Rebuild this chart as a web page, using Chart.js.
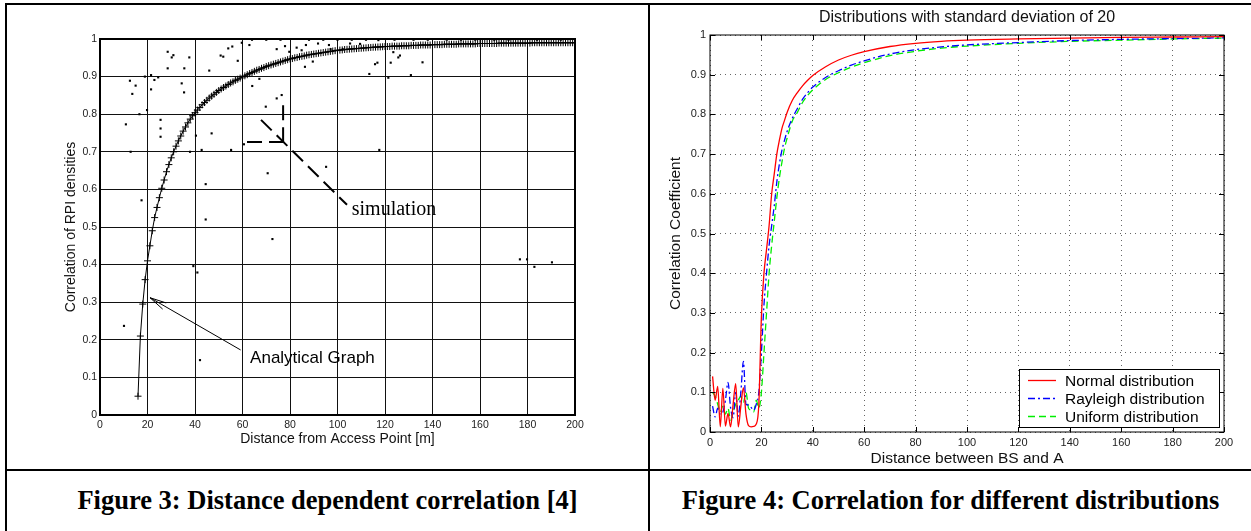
<!DOCTYPE html>
<html>
<head>
<meta charset="utf-8">
<script src="https://cdn.jsdelivr.net/npm/chart.js@4.4.0/dist/chart.umd.min.js"></script>
<style>
  html, body { margin: 0; padding: 0; background: #fff; }
  body { width: 1251px; height: 531px; position: relative; overflow: hidden; }
  canvas { position: absolute; top: 0; }
  #fig3 { left: 0; }
  #fig4 { left: 649px; }
  .rule { position: absolute; background: #000; }
  .caption {
    position: absolute; top: 485px; height: 34px; line-height: 34px;
    text-align: center; font: bold 26.5px "Liberation Serif", "Times New Roman", serif; color: #000;
  }
</style>
</head>
<body>
<canvas id="fig3" width="648" height="468"></canvas>
<canvas id="fig4" width="602" height="468"></canvas>

<div class="rule" style="left:5px;top:3px;width:1246px;height:2px"></div>
<div class="rule" style="left:5px;top:3px;width:2px;height:528px"></div>
<div class="rule" style="left:648px;top:3px;width:2px;height:528px"></div>
<div class="rule" style="left:5px;top:469px;width:1246px;height:2px"></div>

<div class="caption" style="left:7px;width:641px">Figure 3: Distance dependent correlation [4]</div>
<div class="caption" style="left:650px;width:601px">Figure 4: Correlation for different distributions</div>

<script>
Chart.defaults.font.family = '"Liberation Sans", Arial, Helvetica, sans-serif';
Chart.defaults.color = '#222';

// ---- Figure 3 data ----
// analytical curve, one value per metre starting at 16 m
const analyticalStart = 16;
const analyticalY = [
  0.05, 0.21, 0.295, 0.36, 0.41, 0.45, 0.49, 0.525, 0.552, 0.578,
  0.603, 0.625, 0.647, 0.666, 0.684, 0.700, 0.715, 0.729, 0.742, 0.755,
  0.766, 0.777, 0.787, 0.796, 0.804, 0.811, 0.818, 0.825, 0.831, 0.837,
  0.843, 0.848, 0.853, 0.858, 0.863, 0.867, 0.871, 0.875, 0.879, 0.883,
  0.886, 0.890, 0.893, 0.896, 0.899, 0.902, 0.905, 0.908, 0.911, 0.914,
  0.917, 0.919, 0.922, 0.924, 0.927, 0.929, 0.931, 0.933, 0.935, 0.937,
  0.939, 0.941, 0.943, 0.945, 0.947, 0.948, 0.950, 0.951, 0.953, 0.954,
  0.955, 0.957, 0.958, 0.959, 0.960, 0.961, 0.962, 0.963, 0.964, 0.965,
  0.966, 0.967, 0.968, 0.969, 0.970, 0.9705, 0.971, 0.972, 0.9725, 0.973,
  0.9735, 0.974, 0.9745, 0.975, 0.9755, 0.976, 0.9765, 0.977, 0.9775, 0.978,
  0.9783, 0.9787, 0.979, 0.9795, 0.980, 0.980, 0.980, 0.981, 0.981, 0.981,
  0.981, 0.982, 0.982, 0.982, 0.982, 0.983, 0.983, 0.983, 0.983, 0.984,
  0.984, 0.984, 0.984, 0.984, 0.985, 0.985, 0.985, 0.985, 0.985, 0.986,
  0.986, 0.986, 0.986, 0.986, 0.986, 0.987, 0.987, 0.987, 0.987, 0.987,
  0.987, 0.987, 0.987, 0.988, 0.988, 0.988, 0.988, 0.988, 0.988, 0.988,
  0.988, 0.988, 0.989, 0.989, 0.989, 0.989, 0.989, 0.989, 0.989, 0.989,
  0.989, 0.989, 0.989, 0.989, 0.989, 0.989, 0.990, 0.990, 0.990, 0.990,
  0.990, 0.990, 0.990, 0.990, 0.990, 0.990, 0.990, 0.990, 0.990, 0.990,
  0.990, 0.990, 0.990, 0.990, 0.990
];

// simulation dots
const simX = [
  10.1, 10.9, 12.6, 12.9, 13.6, 15.0, 16.6, 17.5, 18.9, 19.8,
  21.5, 21.5, 22.9, 24.5, 25.5, 25.5, 25.5, 28.5, 28.5, 30.2,
  30.9, 34.4, 35.4, 35.5, 37.6, 37.9, 39.3, 40.4, 41.0, 42.1,
  42.8, 44.5, 44.5, 46.0, 47.0, 50.8, 51.9, 54.0, 55.2, 55.7,
  58.0, 59.7, 60.6, 62.9, 64.1, 67.1, 69.8, 70.6, 72.6, 74.4,
  74.4, 76.5, 77.9, 79.7, 82.8, 84.9, 86.3, 86.7, 89.6, 91.8,
  95.2, 96.4, 97.1, 102.2, 105.3, 109.5, 113.4, 115.8, 116.8, 117.2,
  117.6, 121.4, 122.4, 123.5, 125.6, 126.3, 130.9, 135.8, 176.8, 179.8,
  182.9, 190.3,
  64, 70, 76, 88, 94, 100, 106, 112, 124, 132, 138, 146, 152, 158, 166, 172, 184, 194
];
const simY = [
  0.237, 0.773, 0.889, 0.700, 0.854, 0.876, 0.800, 0.571, 0.900, 0.811,
  0.904, 0.866, 0.891, 0.898, 0.785, 0.762, 0.740, 0.966, 0.922, 0.951,
  0.957, 0.882, 0.858, 0.922, 0.951, 0.700, 0.396, 0.743, 0.379, 0.146,
  0.705, 0.614, 0.520, 0.916, 0.749, 0.956, 0.953, 0.975, 0.705, 0.980,
  0.942, 0.990, 0.720, 0.984, 0.875, 0.894, 0.820, 0.643, 0.468, 0.842,
  0.973, 0.851, 0.981, 0.966, 0.977, 0.970, 0.926, 0.984, 0.940, 0.988,
  0.660, 0.984, 0.973, 0.973, 0.988, 0.987, 0.907, 0.933, 0.937, 0.997,
  0.705, 0.897, 0.937, 0.965, 0.951, 0.956, 0.904, 0.938, 0.414, 0.414,
  0.394, 0.406,
  0.998, 0.998, 0.998, 0.998, 0.998, 0.998, 0.998, 0.998, 0.998, 0.998, 0.998, 0.998, 0.998, 0.998, 0.998, 0.998, 0.998, 0.998
];

// ---- Figure 4 data ----
const distX = [
  1, 2, 3, 4, 5, 6, 7, 8, 9, 10, 11, 12, 13, 14, 15, 16, 17, 18, 19, 20,
  21, 22, 23, 24, 25, 26, 27, 28, 29, 30, 32, 34, 36, 38, 40,
  45, 50, 55, 60, 70, 80, 90, 100, 120, 140, 160, 180, 200
];
const normalY = [
  0.14, 0.08, 0.115, 0.013, 0.11, 0.015, 0.047, 0.013, 0.07, 0.122,
  0.013, 0.065, 0.112, 0.045, 0.016, 0.013, 0.014, 0.02, 0.07, 0.29,
  0.40, 0.46, 0.52, 0.60, 0.65, 0.70, 0.735, 0.765, 0.785, 0.805, 0.835, 0.855, 0.872, 0.886, 0.898,
  0.92, 0.937, 0.949, 0.958, 0.971, 0.979, 0.984, 0.987, 0.990, 0.992, 0.994, 0.995, 0.996
];
const rayleighY = [
  0.065, 0.038, 0.06, 0.045, 0.05, 0.08, 0.125, 0.062, 0.036, 0.10,
  0.04, 0.10, 0.178, 0.07, 0.068, 0.062, 0.055, 0.07, 0.10, 0.20,
  0.32, 0.40, 0.47, 0.52, 0.57, 0.63, 0.675, 0.71, 0.735, 0.757, 0.79, 0.815, 0.838, 0.855, 0.869,
  0.893, 0.91, 0.924, 0.935, 0.952, 0.963, 0.970, 0.975, 0.981, 0.986, 0.989, 0.991, 0.993
];
const uniformY = [
  0.10, 0.09, 0.07, 0.05, 0.065, 0.045, 0.06, 0.03, 0.05, 0.07,
  0.08, 0.09, 0.075, 0.10, 0.06, 0.055, 0.05, 0.08, 0.06, 0.10,
  0.20, 0.30, 0.40, 0.47, 0.53, 0.59, 0.64, 0.68, 0.715, 0.74, 0.783, 0.805, 0.83, 0.848, 0.862,
  0.888, 0.905, 0.919, 0.93, 0.948, 0.959, 0.967, 0.972, 0.979, 0.984, 0.987, 0.990, 0.992
];

// annotation anchors for figure 3, in data units
const simArrowLine = [[67.8, 0.785], [104, 0.559]];
const simArrowCorner = [77.1, 0.726];
const simArrowArms = [[61.9, 0.726], [77.1, 0.824]];
const simLabelAt = [106, 0.545];
const anaArrowFrom = [59.2, 0.173];
const anaArrowTo = [21.05, 0.312];
const anaLabelAt = [63.2, 0.152];

const yTickLabel = (v) => String(+v.toFixed(1));

// box around the plot area, optional inward ticks (matlab style)
const framePlugin = {
  id: 'frame',
  afterDraw(chart, args, opts) {
    const { ctx, chartArea: a, scales: { x, y } } = chart;
    ctx.save();
    ctx.strokeStyle = '#000';
    ctx.lineWidth = opts.width || 1;
    ctx.strokeRect(a.left, a.top, a.right - a.left, a.bottom - a.top);
    const t = opts.tick || 0;
    if (t) {
      ctx.lineWidth = 1;
      ctx.beginPath();
      x.ticks.forEach((tk) => {
        const px = Math.round(x.getPixelForValue(tk.value)) + 0.5;
        ctx.moveTo(px, a.bottom); ctx.lineTo(px, a.bottom - t);
        ctx.moveTo(px, a.top); ctx.lineTo(px, a.top + t);
      });
      y.ticks.forEach((tk) => {
        const py = Math.round(y.getPixelForValue(tk.value)) + 0.5;
        ctx.moveTo(a.left, py); ctx.lineTo(a.left + t, py);
        ctx.moveTo(a.right, py); ctx.lineTo(a.right - t, py);
      });
      ctx.stroke();
    }
    ctx.restore();
  }
};

const fig3Notes = {
  id: 'fig3Notes',
  afterDatasetsDraw(chart) {
    const { ctx, scales: { x, y } } = chart;
    const px = (p) => [x.getPixelForValue(p[0]), y.getPixelForValue(p[1])];
    const seg = (p, q) => {
      const a = px(p), b = px(q);
      ctx.beginPath(); ctx.moveTo(a[0], a[1]); ctx.lineTo(b[0], b[1]); ctx.stroke();
    };
    ctx.save();
    ctx.strokeStyle = '#000';
    ctx.fillStyle = '#000';

    // "simulation" dashed arrow
    ctx.lineWidth = 2;
    ctx.setLineDash([15, 7]);
    seg(simArrowLine[0], simArrowLine[1]);
    seg(simArrowArms[0], simArrowCorner);
    seg(simArrowArms[1], simArrowCorner);
    ctx.setLineDash([]);
    ctx.font = '20px "Liberation Serif", "Times New Roman", serif';
    ctx.textBaseline = 'middle';
    const s = px(simLabelAt);
    ctx.fillText('simulation', s[0], s[1]);

    // "Analytical Graph" arrow
    ctx.lineWidth = 1;
    seg(anaArrowFrom, anaArrowTo);
    const f = px(anaArrowFrom), t = px(anaArrowTo);
    const ang = Math.atan2(f[1] - t[1], f[0] - t[0]);
    ctx.beginPath();
    [-0.21, 0.21].forEach((d) => {
      ctx.moveTo(t[0], t[1]);
      ctx.lineTo(t[0] + 17 * Math.cos(ang + d), t[1] + 17 * Math.sin(ang + d));
    });
    ctx.stroke();
    ctx.font = '17px "Liberation Sans", Arial, sans-serif';
    const l = px(anaLabelAt);
    ctx.fillText('Analytical Graph', l[0], l[1]);
    ctx.restore();
  }
};

// legend box inside the plot, bottom right
const fig4Legend = {
  id: 'fig4Legend',
  afterDraw(chart) {
    const { ctx, chartArea: a } = chart;
    const w = 200, h = 58;
    const left = a.right - 5 - w, top = a.bottom - 5 - h;
    ctx.save();
    ctx.fillStyle = '#fff';
    ctx.fillRect(left, top, w, h);
    ctx.strokeStyle = '#000';
    ctx.lineWidth = 1;
    ctx.strokeRect(left + 0.5, top + 0.5, w, h);
    ctx.font = '15.5px "Liberation Sans", Arial, sans-serif';
    ctx.textBaseline = 'middle';
    chart.data.datasets.forEach((ds, i) => {
      const ly = top + 11.5 + i * 18;
      ctx.strokeStyle = ds.borderColor;
      ctx.lineWidth = ds.borderWidth;
      ctx.setLineDash(ds.borderDash || []);
      ctx.beginPath(); ctx.moveTo(left + 9, ly); ctx.lineTo(left + 37, ly); ctx.stroke();
      ctx.setLineDash([]);
      ctx.fillStyle = '#000';
      ctx.fillText(ds.label, left + 46, ly + 1);
    });
    ctx.restore();
  }
};

const fig3 = new Chart(document.getElementById('fig3'), {
  type: 'scatter',
  data: {
    datasets: [
      {
        label: 'Analytical Graph',
        data: analyticalY.map((v, i) => ({ x: analyticalStart + i, y: v })),
        showLine: true,
        borderColor: '#000',
        borderWidth: 1,
        pointStyle: 'cross',
        pointRadius: 3.5,
        pointBorderColor: '#000',
        pointBorderWidth: 1
      },
      {
        label: 'simulation',
        data: simX.map((v, i) => ({ x: v, y: simY[i] })),
        pointStyle: 'rect',
        pointRadius: 1.5,
        backgroundColor: '#000',
        borderWidth: 0
      }
    ]
  },
  options: {
    responsive: false,
    animation: false,
    layout: { padding: { left: 63, right: 73, top: 39, bottom: 0 } },
    plugins: {
      legend: { display: false },
      tooltip: { enabled: false },
      frame: { width: 2 }
    },
    scales: {
      x: {
        type: 'linear', min: 0, max: 200,
        ticks: { stepSize: 20, padding: 4, font: { size: 10.5 }, maxRotation: 0 },
        grid: { color: '#111', lineWidth: 1, drawTicks: false },
        border: { display: false },
        title: { display: true, text: 'Distance from Access Point [m]', color: '#111', font: { size: 14 }, padding: { top: 0, bottom: 20 } },
        afterFit: (s) => { s.height = 53; }
      },
      y: {
        min: 0, max: 1,
        ticks: { stepSize: 0.1, padding: 3, font: { size: 10.5 }, callback: yTickLabel },
        grid: { color: '#111', lineWidth: 1, drawTicks: false },
        border: { display: false },
        title: { display: true, text: 'Correlation of RPI densities', color: '#111', font: { size: 14 }, padding: 0 },
        afterFit: (s) => { s.width = 37; }
      }
    }
  },
  plugins: [framePlugin, fig3Notes]
});

const toPts = (ys) => ys.map((v, i) => ({ x: distX[i], y: v }));

const fig4 = new Chart(document.getElementById('fig4'), {
  type: 'scatter',
  data: {
    datasets: [
      { label: 'Normal distribution', data: toPts(normalY), borderColor: '#ff0000', borderWidth: 1.3, borderDash: [] },
      { label: 'Rayleigh distribution', data: toPts(rayleighY), borderColor: '#0000ff', borderWidth: 1.3, borderDash: [7, 3, 2, 3] },
      { label: 'Uniform distribution', data: toPts(uniformY), borderColor: '#00ee00', borderWidth: 1.3, borderDash: [7, 4] }
    ].map((d) => Object.assign(d, { showLine: true, pointRadius: 0, cubicInterpolationMode: 'monotone', fill: false }))
  },
  options: {
    responsive: false,
    animation: false,
    layout: { padding: { left: 17, right: 27, top: 0, bottom: 0 } },
    plugins: {
      legend: { display: false },
      tooltip: { enabled: false },
      title: {
        display: true, fullSize: false,
        text: 'Distributions with standard deviation of 20',
        color: '#111', font: { size: 16, weight: 'normal' },
        padding: { top: 8, bottom: 7.8 }
      },
      frame: { width: 1, tick: 5 }
    },
    scales: {
      x: {
        type: 'linear', min: 0, max: 200,
        ticks: { stepSize: 20, padding: 4, font: { size: 11 }, maxRotation: 0 },
        grid: { color: '#666', lineWidth: 1, drawTicks: false },
        border: { display: false, dash: [1, 4] },
        title: { display: true, text: 'Distance between BS and A', color: '#111', font: { size: 15.5 }, padding: 0 },
        afterFit: (s) => { s.height = 36; }
      },
      y: {
        min: 0, max: 1,
        ticks: { stepSize: 0.1, padding: 4, font: { size: 11 }, callback: yTickLabel },
        grid: { color: '#666', lineWidth: 1, drawTicks: false },
        border: { display: false, dash: [1, 4] },
        title: { display: true, text: 'Correlation Coefficient', color: '#111', font: { size: 15.5 }, padding: 0 },
        afterFit: (s) => { s.width = 44; }
      }
    }
  },
  plugins: [framePlugin, fig4Legend]
});
</script>
</body>
</html>
